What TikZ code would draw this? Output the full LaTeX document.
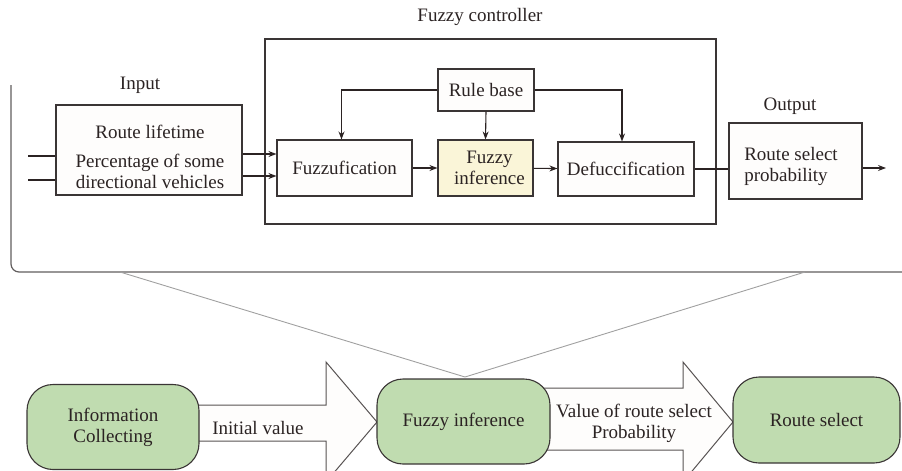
\documentclass[tikz,border=0pt]{standalone}
\usepackage{fontspec}
\setmainfont{Liberation Serif}
\usepackage{xcolor}
\usepackage{tikz}
\usetikzlibrary{calc,arrows.meta}
\definecolor{ink}{HTML}{2B2323}
\definecolor{edge}{HTML}{3A3535}
\definecolor{funnel}{HTML}{A0A0A0}
\definecolor{cream}{HTML}{FAF5D8}
\definecolor{leaf}{HTML}{C0DCB0}
\definecolor{paper}{HTML}{FEFDFC}
\tikzset{
  box/.style={draw=edge, fill=paper, line width=1.1pt, inner sep=0pt},
  blk/.style={draw=edge, line width=1.1pt, inner sep=0pt},
  arr/.style={draw=ink, line width=1.1pt, -{Stealth[length=8pt,width=6pt]}},
  lne/.style={draw=ink, line width=1.1pt},
  frame/.style={draw=edge!80, line width=1.2pt, rounded corners=8pt},
  fun/.style={draw=funnel, line width=0.9pt},
  stage/.style={draw=edge, fill=leaf, line width=1.1pt, rounded corners=26pt, align=center},
  fat/.style={draw=edge!85, fill=paper, line width=1.0pt, line join=miter},
  lab/.style={text=ink, align=center, inner sep=0pt},
}

\begin{document}
\begin{tikzpicture}[x=1pt, y=-1pt, font=\fontsize{19}{21}\selectfont, text=ink]
  \useasboundingbox (0,0) rectangle (902,471);

  % upper part: the controller
  \draw[frame] (11,85) -- (11,272) -- (906,272);
  \node[blk, minimum width=451pt, minimum height=185pt] (fc) at (490.5,131.5) {};
  \node[lab] (fclab) at (480,17) {Fuzzy controller};

  \node[lab] (inlab) at (140,85) {Input};
  \node[box, minimum width=186pt, minimum height=90pt] (inbox) at (149,150) {};
  \node[lab] (intxt) at (150,157) {Route lifetime\\[8pt]Percentage of some\\directional vehicles};

  \node[box, minimum width=135pt, minimum height=56pt] (fuzz) at (344.5,168) {Fuzzufication};
  \node[box, fill=cream, minimum width=95pt, minimum height=56pt, align=center] (infer) at (485.5,168) {\hspace*{8pt}Fuzzy\\\hspace*{8pt}inference};
  \node[box, minimum width=136pt, minimum height=54pt] (defuz) at (626,169) {Defuccification};
  \node[box, minimum width=96pt, minimum height=42pt] (rule) at (486,90) {Rule base};

  \node[lab] (outlab) at (790,106) {Output};
  \node[box, minimum width=133pt, minimum height=76pt] (outbox) at (795.5,161) {};
  \node[lab, align=left] (outtxt) at (791,166) {Route select\\probability};

  \coordinate (in1) at (28,156);
  \coordinate (in2) at (28,180);
  \coordinate (out) at (886,168);
  \draw[lne] (in1) -- (in1 -| inbox.west);
  \draw[lne] (in2) -- (in2 -| inbox.west);
  \draw[arr] ([yshift=-4pt]inbox.east) -- ([yshift=-4pt]inbox.east -| fuzz.west);
  \draw[arr] ([yshift=-26pt]inbox.east) -- ([yshift=-26pt]inbox.east -| fuzz.west);
  \draw[arr] (fuzz) -- (infer);
  \draw[arr] (infer) -- (defuz);
  \draw[arr] (rule.west) -| ([xshift=-3pt]fuzz.north);
  \draw[arr] (rule.east) -| ([xshift=-4pt]defuz.north);
  \draw[arr] (rule.south) -- (infer.north);
  \draw[lne] (defuz.east) -- (defuz.east -| outbox.west);
  \draw[arr] (outbox.east |- out) -- (out);

  % lower part: the process
  \coordinate (tip) at (465,377);
  \draw[fun] (120,272) -- (tip) -- (805,272);

  \draw[fat] (150,405) -- (326,405) -- (326,362) -- (377,422) -- (326,482)
    -- (326,441) -- (150,441) -- cycle;
  \draw[fat] (500,388) -- (683,388) -- (683,362) -- (733,422) -- (683,482)
    -- (683,450) -- (500,450) -- cycle;

  \node[stage, minimum width=172pt, minimum height=85pt] (info) at (113,427) {Information\\Collecting};
  \node[stage, minimum width=173pt, minimum height=85pt] (finf) at (463.5,421.5) {Fuzzy inference};
  \node[stage, minimum width=167pt, minimum height=86pt] (rsel) at (816.5,420) {Route select};

  \node[lab] (initv) at (258,428) {Initial value};
  \node[lab] (valrs) at (634,423) {Value of route select\\Probability};
\end{tikzpicture}
\end{document}
